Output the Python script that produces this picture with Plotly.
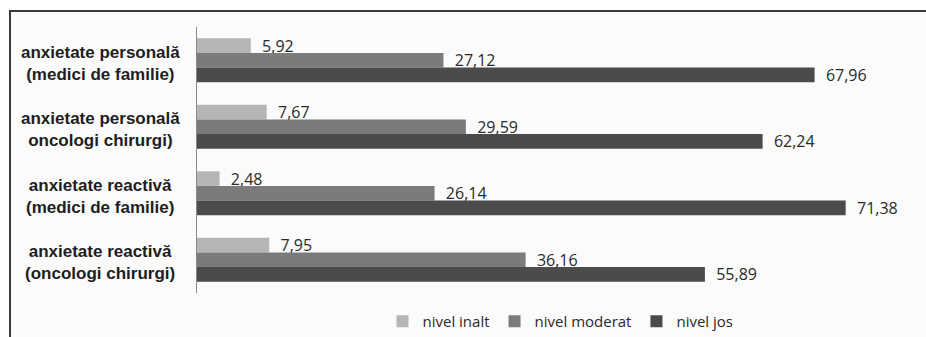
import plotly.graph_objects as go

categories = ["ap_mf", "ap_oc", "ar_mf", "ar_oc"]
cat_labels = [
    "anxietate personală<br>(medici de familie)",
    "anxietate personală<br>oncologi chirurgi)",
    "anxietate reactivă<br>(medici de familie)",
    "anxietate reactivă<br>(oncologi chirurgi)",
]
series_names = ["nivel inalt", "nivel moderat", "nivel jos"]
nivel_inalt = [5.92, 7.67, 2.48, 7.95]
nivel_moderat = [27.12, 29.59, 26.14, 36.16]
nivel_jos = [67.96, 62.24, 71.38, 55.89]
series_values = [nivel_inalt, nivel_moderat, nivel_jos]
colors = ["#b5b5b5", "#7b7b7b", "#4b4b4b"]

W, H = 926, 337
L, R, T, B = 197, 2, 27, 44
pw, ph = W - L - R, H - T - B


def px_x(p):
    return (p - L) / pw


def px_y(p):
    return (H - B - p) / ph


def fmt(v):
    return "\u00a0\u00a0" + f"{v:.2f}".replace(".", ",")


fig = go.Figure()
for name, vals, col in zip(series_names, series_values, colors):
    fig.add_trace(go.Bar(
        y=categories, x=vals, orientation="h", name=name,
        marker=dict(color=col, line=dict(width=0)),
        text=[fmt(v) for v in vals], textposition="outside",
        textfont=dict(family="Open Sans", size=16, color="#2a2a2a"),
        cliponaxis=False,
    ))

annotations = []
for c, lab in zip(categories, cat_labels):
    annotations.append(dict(
        x=px_x(100), xref="paper", y=c, yref="y", yshift=-3,
        text="<b>" + lab.replace("<br>", "</b><br><b>") + "</b>",
        showarrow=False, align="center", xanchor="center", yanchor="middle",
        font=dict(family="Liberation Sans", size=17, color="#1e1e1e"),
    ))

fig.update_layout(
    width=W, height=H,
    margin=dict(l=L, r=R, t=T, b=B, autoexpand=False),
    paper_bgcolor="white",
    plot_bgcolor="rgba(0,0,0,0)",
    barmode="group", bargap=0.34, bargroupgap=0,
    uniformtext=dict(mode=False),
    xaxis=dict(range=[0, 80], visible=False, fixedrange=True),
    yaxis=dict(autorange="reversed", showticklabels=False, showgrid=False,
               showline=True, linecolor="#8a8a8a", linewidth=1, ticks="",
               zeroline=False),
    showlegend=True,
    legend=dict(orientation="h", x=0.5, xanchor="center", y=px_y(338),
                yanchor="bottom", itemwidth=30,
                font=dict(family="Open Sans", size=15, color="#2a2a2a"),
                bgcolor="rgba(0,0,0,0)"),
    annotations=annotations,
    shapes=[dict(type="rect", xref="paper", yref="paper",
                 x0=px_x(10), x1=px_x(940), y0=px_y(350), y1=px_y(11),
                 fillcolor="#fbfbfb", line=dict(color="#3c3c3c", width=2),
                 layer="below")],
    font=dict(family="Open Sans"),
)
fig.update_traces(constraintext="none")

fig.write_html("out.html")
